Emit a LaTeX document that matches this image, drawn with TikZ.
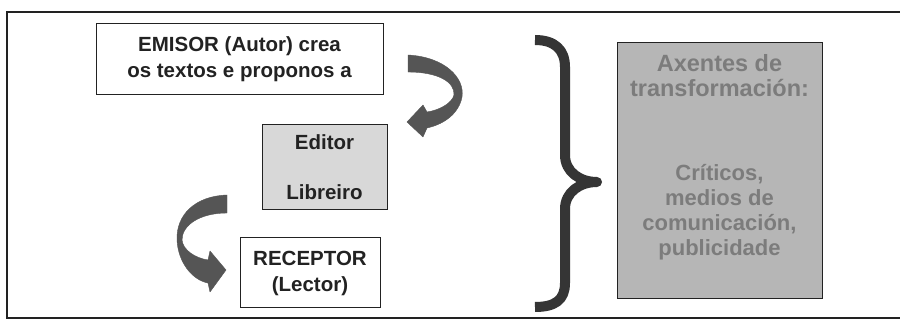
\documentclass[tikz,border=0pt]{standalone}
\usepackage{fontspec}
\setmainfont{Liberation Sans}
\definecolor{inkc}{HTML}{222222}
\definecolor{edfill}{HTML}{D8D8D8}
\definecolor{axfill}{HTML}{B6B6B6}
\definecolor{axtext}{HTML}{7C7C7C}
\definecolor{arrowc}{HTML}{555555}
\definecolor{bracec}{HTML}{353535}
\newcommand\axbig{\fontsize{23.5}{25}\selectfont}
\newcommand\axsmall{\fontsize{22}{25}\selectfont}
\begin{document}
\begin{tikzpicture}[x=1pt,y=-1pt,
  frame/.style={draw=inkc,line width=1.4pt},
  boxstyle/.style={draw=inkc,line width=1pt,inner sep=0pt,align=center,text=inkc,
    font=\fontsize{20.5}{26}\selectfont\bfseries},
  fatarrow/.style={fill=arrowc,draw=arrowc,line width=0.4pt,line join=round},
  bracestyle/.style={draw=bracec,line width=10pt,line join=round}]
\useasboundingbox (0,0) rectangle (900,320);
\fill[white] (0,0) rectangle (900,320);
% frame
\draw[frame] (905,12) -- (7,12) -- (7,318) -- (905,318);
% boxes
\node[boxstyle,minimum width=287pt,minimum height=71pt] (emisor) at (239.5,59.5)
  {EMISOR (Autor) crea\\os textos e proponos a};
\node[boxstyle,fill=edfill,minimum width=125pt,minimum height=85pt] (editor) at (324.5,167.5)
  {Editor\\[24pt]Libreiro};
\node[boxstyle,minimum width=140pt,minimum height=70pt] (receptor) at (310,273)
  {RECEPTOR\\(Lector)};
\node[boxstyle,fill=axfill,minimum width=205pt,minimum height=256pt] (axbox) at (719.5,171) {};
\node[inner sep=0pt,align=center,text=axtext,anchor=north,
  font=\axbig\bfseries] (axtxt) at (719.5,54.5)
  {\axbig Axentes de\\\axbig transformación:\\[59pt]%
   \axsmall Críticos,\\\axsmall medios de\\\axsmall comunicación,\\\axsmall publicidade};
% curved arrow 1 (emisor -> editor)
\path[fatarrow] (408,55) .. controls (445,57) and (465,78) .. (462,97)
  .. controls (459,113) and (445,124) .. (427,128) -- (423,137) -- (407,122) -- (423,105) -- (427,112)
  .. controls (440,110) and (452,103) .. (454,95)
  .. controls (455,82) and (438,72) .. (408,72) -- cycle;
% curved arrow 2 (editor -> receptor)
\path[fatarrow] (227,195) .. controls (195,196) and (176,215) .. (177,240)
  .. controls (178,262) and (192,280) .. (208,283) -- (210,292) -- (226,270) -- (210,251) -- (208,260)
  .. controls (195,258) and (183,250) .. (182,240)
  .. controls (182,225) and (200,213) .. (227,213) -- cycle;
% brace
\draw[bracestyle] (535,40) .. controls (555,40) and (565,50) .. (565,67) -- (565,155)
  .. controls (565,172) and (580,182) .. (597,182)
  .. controls (580,182) and (565,192) .. (565,209) -- (565,283)
  .. controls (565,300) and (555,307) .. (535,307);
\end{tikzpicture}
\end{document}
